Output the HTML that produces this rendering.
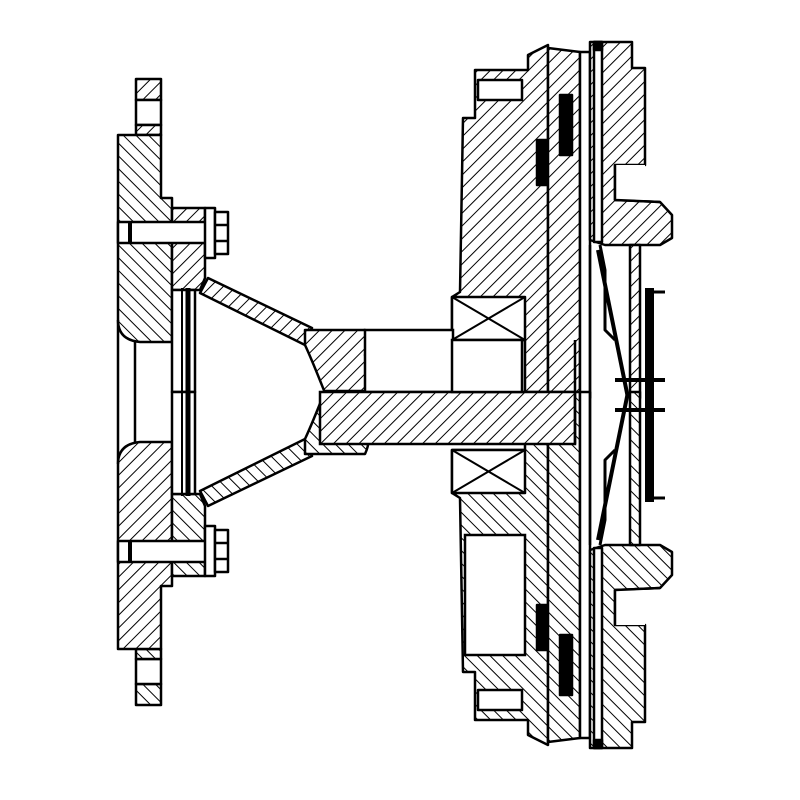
<!DOCTYPE html>
<html><head><style>html,body{margin:0;padding:0;background:#fff}svg{display:block}</style></head>
<body>
<svg width="800" height="800" viewBox="0 0 800 800" xmlns="http://www.w3.org/2000/svg">
<defs>
<pattern id="h" width="9" height="9" patternUnits="userSpaceOnUse" patternTransform="rotate(45)">
<rect width="9" height="9" fill="#fff"/><line x1="0" y1="0" x2="0" y2="9" stroke="#000" stroke-width="2"/></pattern>
<pattern id="h2" width="9" height="9" patternUnits="userSpaceOnUse" patternTransform="rotate(-45)">
<rect width="9" height="9" fill="#fff"/><line x1="0" y1="0" x2="0" y2="9" stroke="#000" stroke-width="2"/></pattern>
<g id="leftTop" stroke="#000" stroke-width="2.5" stroke-linejoin="round">
  <rect x="136" y="79" width="25" height="21" fill="url(#h)"/>
  <rect x="136" y="100" width="25" height="25" fill="#fff"/>
  <rect x="136" y="125" width="25" height="10" fill="url(#h)"/>
  <path d="M118,135 H161 V198 H172 V342 H140 Q118,340 118,320 Z" fill="url(#h2)"/>
  <path d="M172,208 H205 V278 L200,290 H172 Z" fill="url(#h)"/>
  <path d="M172,290 H195 V392 H172 Z" fill="#fff"/>
  <line x1="188" y1="288" x2="188" y2="392" stroke-width="5"/>
  <line x1="182" y1="288" x2="182" y2="392" stroke-width="2"/>
  <line x1="135" y1="342" x2="135" y2="392"/>
  <line x1="118" y1="320" x2="118" y2="392"/>
  <rect x="118" y="222" width="90" height="21" fill="#fff"/>
  <line x1="130" y1="222" x2="130" y2="243" stroke-width="4"/>
  <rect x="205" y="208" width="10" height="50" fill="#fff"/>
  <rect x="215" y="212" width="13" height="42" fill="#fff"/>
  <line x1="215" y1="225" x2="228" y2="225"/><line x1="215" y1="241" x2="228" y2="241"/>
  <path d="M200,293 L208,278 L312,328 L305,345 Z" fill="url(#h)"/>
  <path d="M305,330 H365 Q372,345 365,355 Q375,370 368,393 H325 Q312,360 305,345 Z" fill="url(#h)"/>
</g>
<g id="rightTop" stroke="#000" stroke-width="2.5" stroke-linejoin="round">
  <path d="M463,118 H475 V70 H528 V55 L548,45 V398 H525 V340 H452 V297 L460,292 Z" fill="url(#h)"/>
  <rect x="478" y="80" width="44" height="20" fill="#fff"/>
  <rect x="452" y="297" width="73" height="43" fill="#fff"/>
  <path d="M452,297 L525,340 M525,297 L452,340" fill="none" stroke-width="2"/>
  <path d="M548,48 L580,52 V398 H548 Z" fill="url(#h)"/>
  <rect x="560" y="95" width="12" height="60" fill="#000"/>
  <rect x="537" y="140" width="10" height="45" fill="#000"/>
  <path d="M580,52 H590 V398 H580 Z" fill="#fff"/>
  <path d="M590,42 H632 V68 H645 V165 H615 V200 L660,202 L672,215 V238 L660,245 H605 L590,240 Z" fill="url(#h)"/>
  <rect x="594" y="42" width="8" height="200" fill="#fff"/>
  <rect x="594" y="42" width="8" height="8" fill="#000"/>
  <path d="M615,165 H645 V200 H615 Z" fill="#fff" stroke="none"/>
  <path d="M615,165 V200 L660,202" fill="none"/>
  <path d="M630,245 H640 V398 H630 Z" fill="url(#h)"/>
  <path d="M590,245 V398" fill="none"/>
  <path d="M598,250 L628,398" fill="none" stroke-width="4"/>
  <path d="M600,245 L605,270 V330 L615,340" fill="none" stroke-width="3"/>
  <rect x="645" y="288" width="9" height="110" fill="#000" stroke="none"/>
  <path d="M654,292 H665" fill="none" stroke-width="3"/>
  <path d="M615,380 H665" fill="none" stroke-width="4"/>
</g>
</defs>
<use href="#leftTop"/>
<use href="#leftTop" transform="matrix(1,0,0,-1,0,784)"/>
<use href="#rightTop"/>
<use href="#rightTop" transform="matrix(1,0,0,-1,0,790)"/>
<g stroke="#000" stroke-width="2.5">
  <rect x="365" y="330" width="88" height="62" fill="#fff"/>
  <rect x="320" y="392" width="255" height="52" fill="url(#h)"/>
  <rect x="452" y="340" width="70" height="52" fill="#fff"/>
  <line x1="575" y1="340" x2="575" y2="444"/>
  <rect x="465" y="535" width="60" height="120" fill="#fff"/>
</g>
</svg>
</body></html>
